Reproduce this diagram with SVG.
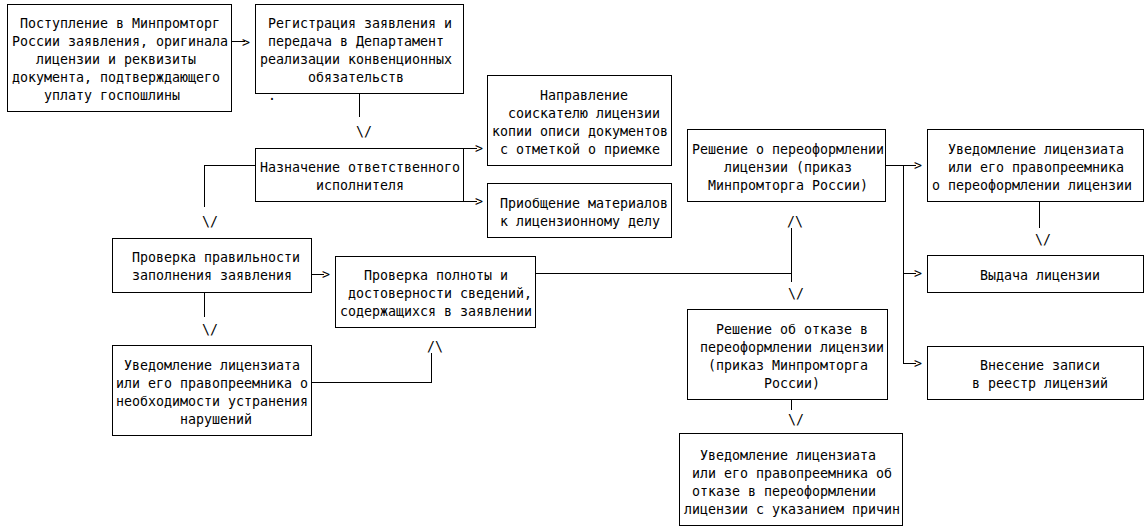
<svg xmlns="http://www.w3.org/2000/svg" width="1146" height="532" viewBox="0 0 1146 532">
<style>
.b{fill:#fff;stroke:#000;stroke-width:1;shape-rendering:crispEdges}
.c{fill:none;stroke:#000;stroke-width:1;shape-rendering:crispEdges}
text{font-family:"DejaVu Sans Mono","Liberation Mono",monospace;font-size:13.29px;fill:#000}
.m{text-anchor:middle}
</style>
<rect width="1146" height="532" fill="#fff"/>
<g id="connectors">
<path class="c" d="M231.5,41.5H244.5"/>
<text x="242" y="47">&gt;</text>
<path class="c" d="M359.5,93V117"/>
<text class="m" x="364" y="136">\/</text>
<text x="268" y="100">.</text>
<path class="c" d="M255,165.5H204.5V207"/>
<text class="m" x="210" y="226">\/</text>
<path class="c" d="M463,148.5H477"/>
<text x="475" y="153">&gt;</text>
<path class="c" d="M463,201.5H477"/>
<text x="475" y="206">&gt;</text>
<path class="c" d="M311,274.5H324"/>
<text x="322" y="279">&gt;</text>
<path class="c" d="M204.5,292V317"/>
<text class="m" x="210" y="334">\/</text>
<path class="c" d="M311,382.5H431.5V353"/>
<text class="m" x="435" y="351">/\</text>
<path class="c" d="M535,273.5H791.5"/>
<path class="c" d="M791.5,228V282"/>
<text class="m" x="795" y="226">/\</text>
<text class="m" x="796" y="298">\/</text>
<path class="c" d="M885,165.5H916"/>
<text x="914" y="170">&gt;</text>
<path class="c" d="M903.5,165V363.5H916"/>
<path class="c" d="M903.5,273.5H916"/>
<text x="914" y="278">&gt;</text>
<text x="914" y="368">&gt;</text>
<path class="c" d="M1039.5,201V228"/>
<text class="m" x="1043" y="244">\/</text>
<path class="c" d="M791.5,399V410"/>
<text class="m" x="796" y="424">\/</text>
</g>
<g id="n1">
<rect class="b" x="7.5" y="4.5" width="224" height="107"/>
<text x="20" y="28">Поступление в Минпромторг</text>
<text x="12" y="46">России заявления, оригинала</text>
<text x="36" y="64">лицензии и реквизиты</text>
<text x="12" y="82">документа, подтверждающего</text>
<text x="44" y="100">уплату госпошлины</text>
</g>
<g id="n2">
<rect class="b" x="255.5" y="4.5" width="208" height="89"/>
<text x="268" y="28">Регистрация заявления и</text>
<text x="268" y="46">передача в Департамент</text>
<text x="260" y="64">реализации конвенционных</text>
<text x="308" y="82">обязательств</text>
</g>
<g id="n3">
<rect class="b" x="255.5" y="148.5" width="208" height="53"/>
<text x="260" y="172">Назначение ответственного</text>
<text x="316" y="190">исполнителя</text>
</g>
<g id="n4">
<rect class="b" x="487.5" y="75.5" width="184" height="90"/>
<text x="540" y="100">Направление</text>
<text x="508" y="118">соискателю лицензии</text>
<text x="492" y="136">копии описи документов</text>
<text x="500" y="154">с отметкой о приемке</text>
</g>
<g id="n5">
<rect class="b" x="487.5" y="183.5" width="184" height="54"/>
<text x="500" y="208">Приобщение материалов</text>
<text x="500" y="226">к лицензионному делу</text>
</g>
<g id="n6">
<rect class="b" x="112.5" y="238.5" width="199" height="54"/>
<text x="132" y="262">Проверка правильности</text>
<text x="132" y="280">заполнения заявления</text>
</g>
<g id="n7">
<rect class="b" x="335.5" y="256.5" width="200" height="71"/>
<text x="364" y="280">Проверка полноты и</text>
<text x="348" y="298">достоверности сведений,</text>
<text x="340" y="316">содержащихся в заявлении</text>
</g>
<g id="n8">
<rect class="b" x="112.5" y="345.5" width="199" height="90"/>
<text x="124" y="370">Уведомление лицензиата</text>
<text x="116" y="388">или его правопреемника о</text>
<text x="116" y="406">необходимости устранения</text>
<text x="180" y="424">нарушений</text>
</g>
<g id="n9">
<rect class="b" x="687.5" y="129.5" width="198" height="72"/>
<text x="692" y="154">Решение о переоформлении</text>
<text x="724" y="172">лицензии (приказ</text>
<text x="708" y="190">Минпромторга России)</text>
</g>
<g id="n10">
<rect class="b" x="927.5" y="129.5" width="216" height="72"/>
<text x="948" y="154">Уведомление лицензиата</text>
<text x="948" y="172">или его правопреемника</text>
<text x="932" y="190">о переоформлении лицензии</text>
</g>
<g id="n11">
<rect class="b" x="927.5" y="255.5" width="216" height="37"/>
<text x="980" y="280">Выдача лицензии</text>
</g>
<g id="n12">
<rect class="b" x="927.5" y="346.5" width="216" height="53"/>
<text x="980" y="370">Внесение записи</text>
<text x="972" y="388">в реестр лицензий</text>
</g>
<g id="n13">
<rect class="b" x="687.5" y="309.5" width="200" height="90"/>
<text x="716" y="334">Решение об отказе в</text>
<text x="700" y="352">переоформлении лицензии</text>
<text x="708" y="370">(приказ Минпромторга</text>
<text x="764" y="388">России)</text>
</g>
<g id="n14">
<rect class="b" x="679.5" y="433.5" width="223" height="92"/>
<text x="700" y="460">Уведомление лицензиата</text>
<text x="692" y="478">или его правопреемника об</text>
<text x="692" y="496">отказе в переоформлении</text>
<text x="684" y="514">лицензии с указанием причин</text>
</g>
</svg>
